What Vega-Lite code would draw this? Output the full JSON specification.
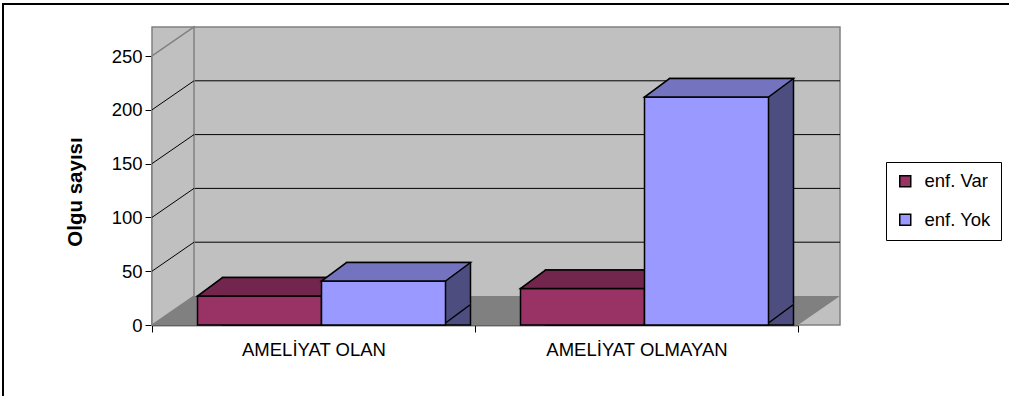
{
  "$schema": "https://vega.github.io/schema/vega-lite/v6.json",
  "width": 646,
  "height": 269,
  "autosize": "none",
  "padding": {"left": 152, "top": 56, "right": 211, "bottom": 71},
  "background": "white",
  "datasets": {
    "main": [
      {"grup": "AMELİYAT OLAN", "enf": "enf. Var", "n": 25},
      {"grup": "AMELİYAT OLAN", "enf": "enf. Yok", "n": 39},
      {"grup": "AMELİYAT OLMAYAN", "enf": "enf. Var", "n": 32},
      {"grup": "AMELİYAT OLMAYAN", "enf": "enf. Yok", "n": 210}
    ],
    "grid": [{"g": 50}, {"g": 100}, {"g": 150}, {"g": 200}],
    "one": [{"part": "wall"}]
  },
  "config": {
    "view": {"stroke": null},
    "font": "Liberation Sans",
    "axis": {
      "labelFont": "Liberation Sans",
      "labelFontSize": 18.5,
      "labelColor": "black",
      "labelLimit": 0,
      "domainColor": "black",
      "tickColor": "black",
      "grid": false,
      "zindex": 1,
      "titleFont": "Liberation Sans",
      "titleColor": "black"
    },
    "axisX": {"tickBand": "extent", "tickSize": 7, "labelPadding": 8, "domainWidth": 1.5, "labelAngle": 0},
    "axisY": {
      "tickSize": 7,
      "labelPadding": 3,
      "domainWidth": 1.5,
      "titleFontSize": 20.5,
      "titleFontWeight": "bold",
      "titleX": -71,
      "titleY": 135.5,
      "titleBaseline": "alphabetic",
      "titleAlign": "center",
      "titleAngle": -90
    }
  },
  "layer": [
    {
      "data": {"name": "one"},
      "mark": {"type": "rect", "xOffset": 42, "x2Offset": 42, "yOffset": -29, "y2Offset": -29, "fill": "#C0C0C0", "stroke": "#808080", "strokeWidth": 1.5},
      "encoding": {}
    },
    {
      "data": {"name": "grid"},
      "mark": {"type": "rule", "xOffset": 42, "x2Offset": 42, "yOffset": -29, "y2Offset": -29, "color": "black", "strokeWidth": 1},
      "encoding": {
        "y": {"field": "g", "type": "quantitative", "scale": {"domain": [0, 250], "nice": false}, "title": "Olgu sayısı"}
      }
    },
    {
      "data": {"name": "one"},
      "mark": {"type": "point", "shape": "M-323,0L-281,-29L-281,-298L-323,-269Z", "size": 4, "filled": true, "fill": "#C0C0C0", "stroke": "#808080", "strokeWidth": 1.5, "opacity": 1},
      "encoding": {
        "y": {"datum": 0, "type": "quantitative", "scale": {"domain": [0, 250], "nice": false}, "title": "Olgu sayısı"}
      }
    },
    {
      "data": {"name": "grid"},
      "mark": {"type": "point", "shape": "M-323,0L-281,-29", "size": 4, "filled": false, "stroke": "black", "strokeWidth": 1, "opacity": 1},
      "encoding": {
        "y": {"field": "g", "type": "quantitative", "scale": {"domain": [0, 250], "nice": false}, "title": "Olgu sayısı"}
      }
    },
    {
      "data": {"name": "one"},
      "mark": {"type": "point", "shape": "M-323,0L323,0L365,-29L-281,-29Z", "size": 4, "filled": true, "fill": "#808080", "strokeWidth": 0, "opacity": 1},
      "encoding": {
        "y": {"datum": 0, "type": "quantitative", "scale": {"domain": [0, 250], "nice": false}, "title": "Olgu sayısı"}
      }
    },
    {
      "data": {"name": "main"},
      "encoding": {
        "x": {"field": "grup", "type": "nominal", "sort": ["AMELİYAT OLAN", "AMELİYAT OLMAYAN"], "scale": {"paddingInner": 0, "paddingOuter": 0}, "title": null},
        "y": {"field": "n", "type": "quantitative", "stack": null, "scale": {"domain": [0, 250], "nice": false}, "title": "Olgu sayısı", "axis": {"values": [0, 50, 100, 150, 200, 250]}}
      },
      "layer": [
        {
          "transform": [{"filter": "datum.enf === 'enf. Var'"}],
          "mark": {"type": "bar", "width": 124, "xOffset": -29, "yOffset": -20.5, "y2Offset": -20.5, "fill": "#4D1A33", "stroke": "black", "strokeWidth": 1.5}
        },
        {
          "transform": [{"filter": "datum.enf === 'enf. Var'"}],
          "mark": {"type": "point", "shape": "M62,0L87,-18.5L87,-19.5L62,-19.5Z", "size": 4, "filled": true, "fill": "#4D1A33", "strokeWidth": 0, "opacity": 1, "xOffset": -54, "yOffset": -2},
          "encoding": {"y": {"datum": 0, "type": "quantitative"}}
        },
        {
          "transform": [{"filter": "datum.enf === 'enf. Var'"}],
          "mark": {"type": "bar", "width": 124, "xOffset": -54, "yOffset": -2, "y2Offset": -2, "stroke": "black", "strokeWidth": 1.5},
          "encoding": {
            "color": {"field": "enf", "type": "nominal", "scale": {"domain": ["enf. Var", "enf. Yok"], "range": ["#993366", "#9999FF"]},
              "legend": {"orient": "none", "legendX": 734, "legendY": 106, "title": null, "symbolType": "square", "symbolSize": 121, "symbolStrokeColor": "black", "symbolStrokeWidth": 1.5, "labelFontSize": 18.5, "labelFont": "Liberation Sans", "labelColor": "black", "strokeColor": "black", "fillColor": "white", "padding": 10, "rowPadding": 19.5, "labelOffset": 10}}
          }
        },
        {
          "transform": [{"filter": "datum.enf === 'enf. Var'"}],
          "mark": {"type": "point", "shape": "M-62,0L62,0L87,-18.5L-37,-18.5Z", "size": 4, "filled": true, "fill": "#73264D", "stroke": "black", "strokeWidth": 1.5, "opacity": 1, "xOffset": -54, "yOffset": -2}
        },
        {
          "transform": [{"filter": "datum.enf === 'enf. Var'"}],
          "mark": {"type": "point", "shape": "M62,0L87,-18.5", "size": 4, "filled": false, "stroke": "black", "strokeWidth": 1.5, "opacity": 1, "xOffset": -54, "yOffset": -2},
          "encoding": {"y": {"datum": 0, "type": "quantitative"}}
        },
        {
          "transform": [{"filter": "datum.enf === 'enf. Yok'"}],
          "mark": {"type": "bar", "width": 124, "xOffset": 95, "yOffset": -20.5, "y2Offset": -20.5, "fill": "#4D4D80", "stroke": "black", "strokeWidth": 1.5}
        },
        {
          "transform": [{"filter": "datum.enf === 'enf. Yok'"}],
          "mark": {"type": "point", "shape": "M62,0L87,-18.5L87,-19.5L62,-19.5Z", "size": 4, "filled": true, "fill": "#4D4D80", "strokeWidth": 0, "opacity": 1, "xOffset": 70, "yOffset": -2},
          "encoding": {"y": {"datum": 0, "type": "quantitative"}}
        },
        {
          "transform": [{"filter": "datum.enf === 'enf. Yok'"}],
          "mark": {"type": "bar", "width": 124, "xOffset": 70, "yOffset": -2, "y2Offset": -2, "stroke": "black", "strokeWidth": 1.5},
          "encoding": {
            "color": {"field": "enf", "type": "nominal", "scale": {"domain": ["enf. Var", "enf. Yok"], "range": ["#993366", "#9999FF"]},
              "legend": {"orient": "none", "legendX": 734, "legendY": 106, "title": null, "symbolType": "square", "symbolSize": 121, "symbolStrokeColor": "black", "symbolStrokeWidth": 1.5, "labelFontSize": 18.5, "labelFont": "Liberation Sans", "labelColor": "black", "strokeColor": "black", "fillColor": "white", "padding": 10, "rowPadding": 19.5, "labelOffset": 10}}
          }
        },
        {
          "transform": [{"filter": "datum.enf === 'enf. Yok'"}],
          "mark": {"type": "point", "shape": "M-62,0L62,0L87,-18.5L-37,-18.5Z", "size": 4, "filled": true, "fill": "#7373BF", "stroke": "black", "strokeWidth": 1.5, "opacity": 1, "xOffset": 70, "yOffset": -2}
        },
        {
          "transform": [{"filter": "datum.enf === 'enf. Yok'"}],
          "mark": {"type": "point", "shape": "M62,0L87,-18.5", "size": 4, "filled": false, "stroke": "black", "strokeWidth": 1.5, "opacity": 1, "xOffset": 70, "yOffset": -2},
          "encoding": {"y": {"datum": 0, "type": "quantitative"}}
        }
      ]
    },
    {
      "data": {"name": "one"},
      "mark": {"type": "point", "shape": "M-472,-186.5L543,-186.5L543,214.5L-472,214.5Z", "size": 4, "filled": false, "stroke": "black", "strokeWidth": 2, "opacity": 1},
      "encoding": {}
    }
  ]
}
